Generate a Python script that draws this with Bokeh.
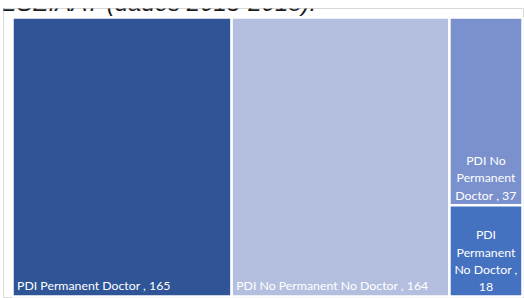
import textwrap
from bokeh.plotting import figure
from bokeh.models import ColumnDataSource, Label, Range1d
from bokeh.embed import file_html
from bokeh.resources import INLINE
from bokeh.core.properties import value

# ---- data ----
categories = ["PDI Permanent Doctor", "PDI No Permanent No Doctor",
              "PDI No Permanent Doctor", "PDI Permanent No Doctor"]
counts = [165, 164, 37, 18]
colors = ["#2F5597", "#B4BFE0", "#7A91CE", "#4571C1"]
title_text = "ESEIAAT (dades 2015-2018)."

# ---- treemap layout (computed from values) ----
total = sum(counts)
rest = counts[2] + counts[3]
x0 = counts[0]
x1 = counts[0] + counts[1]
lefts = [0, x0, x1, x1]
rights = [x0, x1, total, total]
bottoms = [0, 0, counts[3] / rest, 0]
tops = [1, 1, 1, counts[3] / rest]

W, H = 524, 298
frame_l, frame_t = 3, 8
fw, fh = W - frame_l, H - frame_t
pad_l, pad_r, pad_t, pad_b = 9, 2, 9, 2
tw, th = fw - pad_l - pad_r, fh - pad_t - pad_b
xs = total / tw
ys = 1.0 / th

p = figure(width=W, height=H, output_backend="svg", toolbar_location=None,
           x_range=Range1d(-pad_l * xs, total + pad_r * xs),
           y_range=Range1d(-pad_b * ys, 1 + pad_t * ys),
           min_border_left=frame_l, min_border_top=frame_t,
           min_border_right=0, min_border_bottom=0)
p.styles = {"position": "absolute", "left": "0px", "top": "0px"}
p.axis.visible = False
p.grid.visible = False
p.outline_line_color = "#D9D9D9"
p.outline_line_width = 1
p.background_fill_color = "white"
p.border_fill_color = "white"

src = ColumnDataSource(dict(left=lefts, right=rights, bottom=bottoms, top=tops,
                            color=colors))
p.quad(left="left", right="right", bottom="bottom", top="top", source=src,
       fill_color="color", line_color="white", line_width=2.5)

# labels
big_x, big_y, big_t = [], [], []
sm_x, sm_y, sm_t = [], [], []
for c, v, l, r, b in zip(categories, counts, lefts, rights, bottoms):
    txt = f"{c} , {v}"
    if (r - l) / xs > 120:
        big_x.append(l + 4.5 * xs)
        big_y.append(b + 3.5 * ys)
        big_t.append(txt)
    else:
        sm_x.append((l + r) / 2)
        sm_y.append(b + 2.5 * ys)
        sm_t.append("\n".join(textwrap.wrap(txt, 11)))

font = value("Lato")
p.text(x=big_x, y=big_y, text=big_t, text_color="white", text_font=font,
       text_font_size="12.3px", text_align="left", text_baseline="bottom")
p.text(x=sm_x, y=sm_y, text=sm_t, text_color="white", text_font=font,
       text_font_size="12.3px", text_align="center", text_baseline="bottom",
       text_line_height=1.15)

p.add_layout(Label(x=-frame_l, y=H - 2, x_units="screen", y_units="screen",
                   text=title_text, text_font="Liberation Sans",
                   text_font_style="italic", text_font_size="24px",
                   text_color="#1a1a1a", text_baseline="alphabetic"))

open("out.html", "w").write(file_html(p, INLINE))
